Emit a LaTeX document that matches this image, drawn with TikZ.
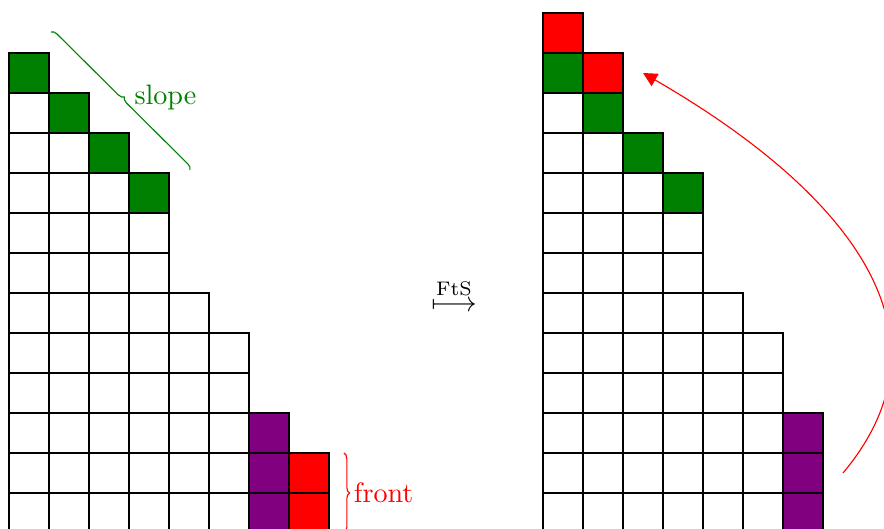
\documentclass[tikz,border=0pt]{standalone}
\usepackage{mathtools}
\usetikzlibrary{decorations.pathreplacing,arrows.meta}
\definecolor{cgreen}{RGB}{0,128,0}
\definecolor{cpurple}{RGB}{128,0,128}
\definecolor{cred}{RGB}{255,0,0}
\begin{document}
\begin{tikzpicture}[x=0.5cm,y=0.5cm,
  cell/.style={draw=black,line width=0.5pt},
  gcell/.style={cell,fill=cgreen},
  pcell/.style={cell,fill=cpurple},
  rcell/.style={cell,fill=cred},
  bracedeco/.style={decorate,decoration={brace,amplitude=2pt}},
  lbl/.style={anchor=west}]
\useasboundingbox (-0.225,0.1) rectangle (21.875,13.325);
% left diagram
\foreach \len [count=\r from 0] in {8,8,7,6,6,5,4,4,4,3,2,1} {
  \foreach \c in {1,...,\len} \draw[cell] (\c-1,\r) rectangle (\c,\r+1);
}
\draw[gcell] (0,11) rectangle ++(1,1);
\draw[gcell] (1,10) rectangle ++(1,1);
\draw[gcell] (2,9) rectangle ++(1,1);
\draw[gcell] (3,8) rectangle ++(1,1);
\foreach \r in {0,1,2} \draw[pcell] (6,\r) rectangle ++(1,1);
\foreach \r in {0,1} \draw[rcell] (7,\r) rectangle ++(1,1);
% slope brace
\coordinate (sa) at (1.05,12.525);
\coordinate (sb) at (4.525,9.075);
\draw[cgreen,bracedeco] (sa) -- (sb);
\node[lbl,text=cgreen] (slope) at (2.89,10.9) {slope};
% front brace
\coordinate (fa) at (8.375,2);
\coordinate (fb) at (8.375,0);
\draw[cred,bracedeco] (fa) -- (fb);
\node[lbl,text=cred] (front) at (8.375,1) {front};
% map arrow
\node (fts) at (11.125,5.95) {$\stackrel{\text{FtS}}{\longmapsto}$};
% right diagram
\begin{scope}[shift={(13.35,0)}]
\foreach \len [count=\r from 0] in {7,7,7,6,6,5,4,4,4,3,2,2,1} {
  \foreach \c in {1,...,\len} \draw[cell] (\c-1,\r) rectangle (\c,\r+1);
}
\draw[rcell] (0,12) rectangle ++(1,1);
\draw[gcell] (0,11) rectangle ++(1,1);
\draw[rcell] (1,11) rectangle ++(1,1);
\draw[gcell] (1,10) rectangle ++(1,1);
\draw[gcell] (2,9) rectangle ++(1,1);
\draw[gcell] (3,8) rectangle ++(1,1);
\foreach \r in {0,1,2} \draw[pcell] (6,\r) rectangle ++(1,1);
\end{scope}
% curved arrow
\coordinate (as) at (20.85,1.5);
\coordinate (ae) at (15.85,11.5);
\draw[cred,-{Triangle[length=5pt,width=5pt]}] (as) to[out=50,in=-30,looseness=1.15] (ae);
\end{tikzpicture}
\end{document}
